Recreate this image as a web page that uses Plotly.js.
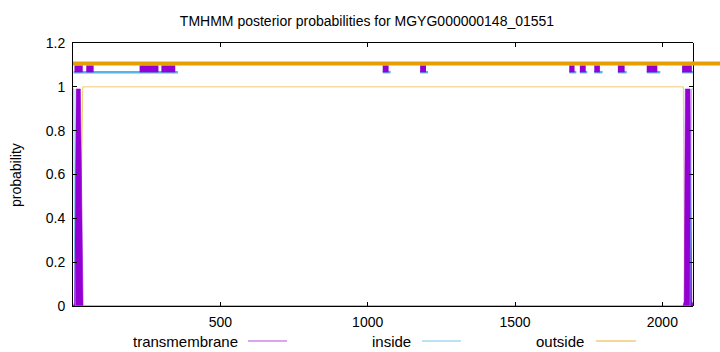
<!DOCTYPE html>
<html>
<head>
<meta charset="utf-8">
<script src="https://cdn.plot.ly/plotly-3.0.1.min.js"></script>
<style>
html,body{margin:0;padding:0;background:#fff;}
#chart{width:720px;height:352px;}
</style>
</head>
<body>
<div id="chart"></div>
<script>
// ---- data ----
var seqLength = 2104;

// posterior probabilities (key points)
var tmX = [0, 5, 8, 11, 25, 28, 31, 34, 2070, 2074, 2076, 2078, 2094, 2096, 2098, 2100, 2104];
var tmY = [0, 0.01, 0.5, 0.99, 0.99, 0.6, 0.1, 0, 0, 0.02, 0.5, 0.99, 0.99, 0.6, 0.1, 0.02, 0.01];

var inX = [0, 3, 5, 8, 2094, 2097, 2099, 2104];
var inY = [0.99, 0.99, 0.3, 0, 0, 0.4, 0.99, 0.99];

var outX = [0, 24, 28, 33, 2071, 2073, 2076, 2104];
var outY = [0.01, 0.02, 0.5, 1, 1, 0.5, 0, 0];

// predicted topology bars at the top
var topOutX = [0, 2196];
var topOutY = [1.107, 1.107];

var topInX = [2, 356, null, 1051, 1078, null, 1178, 1205, null, 1684, 1708, null, 1720, 1745, null,
              1769, 1797, null, 1849, 1879, null, 1947, 1993, null, 2067, 2110];
var topInY = [1.067, 1.067, null, 1.067, 1.067, null, 1.067, 1.067, null, 1.067, 1.067, null, 1.067, 1.067, null,
              1.067, 1.067, null, 1.067, 1.067, null, 1.067, 1.067, null, 1.067, 1.067];

var topTmX = [5, 33, null, 45, 70, null, 226, 290, null, 300, 347, null, 1051, 1071, null, 1178, 1198, null,
              1684, 1702, null, 1720, 1740, null, 1769, 1788, null, 1849, 1872, null, 1947, 1983, null, 2067, 2100];
var topTmY = [1.082, 1.082, null, 1.082, 1.082, null, 1.082, 1.082, null, 1.082, 1.082, null, 1.082, 1.082, null, 1.082, 1.082, null,
              1.082, 1.082, null, 1.082, 1.082, null, 1.082, 1.082, null, 1.082, 1.082, null, 1.082, 1.082, null, 1.082, 1.082];

var xTicks = [500, 1000, 1500, 2000];
var yTicks = [0, 0.2, 0.4, 0.6, 0.8, 1, 1.2];
var yTickText = ['0', '0.2', '0.4', '0.6', '0.8', '1', '1.2'];

var titleText = 'TMHMM posterior probabilities for MGYG000000148_01551';
var legendNames = ['transmembrane', 'inside', 'outside'];
var cTM = '#9400d3', cIn = '#56b4e9', cOut = '#e69f00';

// ---- geometry ----
var W = 720, H = 352, ML = 73, MR = 0, MT = 43, MB = 46;
var plotW = W - ML - MR, plotH = H - MT - MB;
var frameRight = 693;
var dom = (frameRight - ML) / plotW;

var font = 'Liberation Sans, Arial, Helvetica, sans-serif';
var fs = 14, fsLeg = 15;

var traces = [
  {x: outX, y: outY, type: 'scatter', mode: 'lines', name: legendNames[2], showlegend: false,
   line: {color: 'rgba(230,159,0,0.55)', width: 1}, hoverinfo: 'skip'},
  {x: inX, y: inY, type: 'scatter', mode: 'lines', name: legendNames[1], showlegend: false, yaxis: 'y2',
   line: {color: 'rgba(86,180,233,0.7)', width: 1}, hoverinfo: 'skip'},
  {x: tmX, y: tmY, type: 'scatter', mode: 'lines', name: legendNames[0], showlegend: false,
   fill: 'tozeroy', fillcolor: cTM,
   line: {color: 'rgba(148,0,211,0.6)', width: 1}, hoverinfo: 'skip'},
  {x: topInX, y: topInY, type: 'scatter', mode: 'lines', showlegend: false,
   line: {color: cIn, width: 2.5}, hoverinfo: 'skip'},
  {x: topTmX, y: topTmY, type: 'scatter', mode: 'lines', showlegend: false,
   line: {color: cTM, width: 7}, hoverinfo: 'skip'},
  {x: topOutX, y: topOutY, type: 'scatter', mode: 'lines', showlegend: false, xaxis: 'x3', yaxis: 'y',
   line: {color: cOut, width: 4}, hoverinfo: 'skip'}
];

function px2px(p) { return (p - ML) / plotW; }
function py2py(p) { return (H - MB - p) / plotH; }

var legY = py2py(341);
var annotations = [
  {text: 'probability', textangle: -90, xref: 'paper', yref: 'paper', x: px2px(16), y: py2py(175),
   showarrow: false, font: {family: font, size: fs, color: '#000'}, xanchor: 'center', yanchor: 'middle'},
  {text: legendNames[0], xref: 'paper', yref: 'paper', x: px2px(240), y: legY, xanchor: 'right', yanchor: 'middle',
   showarrow: false, font: {family: font, size: fsLeg, color: '#000'}},
  {text: legendNames[1], xref: 'paper', yref: 'paper', x: px2px(413), y: legY, xanchor: 'right', yanchor: 'middle',
   showarrow: false, font: {family: font, size: fsLeg, color: '#000'}},
  {text: legendNames[2], xref: 'paper', yref: 'paper', x: px2px(586), y: legY, xanchor: 'right', yanchor: 'middle',
   showarrow: false, font: {family: font, size: fsLeg, color: '#000'}}
];
var shapes = [
  {type: 'line', xref: 'paper', yref: 'paper', x0: px2px(248), x1: px2px(287), y0: legY, y1: legY,
   line: {color: 'rgba(148,0,211,0.7)', width: 1}},
  {type: 'line', xref: 'paper', yref: 'paper', x0: px2px(422), x1: px2px(461), y0: legY, y1: legY,
   line: {color: 'rgba(86,180,233,0.8)', width: 1}},
  {type: 'line', xref: 'paper', yref: 'paper', x0: px2px(596), x1: px2px(636), y0: legY, y1: legY,
   line: {color: 'rgba(230,159,0,0.8)', width: 1}}
];

var axCommon = {ticks: 'inside', ticklen: 4, tickcolor: '#000', showline: true, linecolor: '#000', linewidth: 1,
                showgrid: false, zeroline: false};

var layout = {
  width: W, height: H,
  margin: {l: ML, r: MR, t: MT, b: MB, pad: 0},
  paper_bgcolor: '#fff', plot_bgcolor: 'rgba(0,0,0,0)',
  showlegend: false,
  font: {family: font, size: fs, color: '#000'},
  title: {text: titleText, x: 367 / W, xanchor: 'center', y: 1 - 21 / H, yanchor: 'middle',
          font: {family: font, size: fs, color: '#000'}},
  xaxis: Object.assign({}, axCommon, {domain: [0, dom], range: [0, seqLength], tickvals: xTicks,
          ticktext: xTicks.map(String), mirror: 'ticks', tickfont: {family: font, size: fs},
          ticklabelstandoff: 3}),
  xaxis3: {domain: [0, 1], range: [0, seqLength * plotW / (frameRight - ML)], anchor: 'y', visible: false,
           fixedrange: true},
  yaxis: Object.assign({}, axCommon, {domain: [0, 1], range: [0, 1.2], tickvals: yTicks, ticktext: yTickText,
          mirror: false, tickfont: {family: font, size: fs}, ticklabelstandoff: 4}),
  yaxis2: Object.assign({}, axCommon, {overlaying: 'y', side: 'right', anchor: 'free', position: dom,
          range: [0, 1.2], tickvals: yTicks, showticklabels: false}),
  annotations: annotations,
  shapes: shapes
};

Plotly.newPlot('chart', traces, layout, {displayModeBar: false, staticPlot: true});
</script>
</body>
</html>
